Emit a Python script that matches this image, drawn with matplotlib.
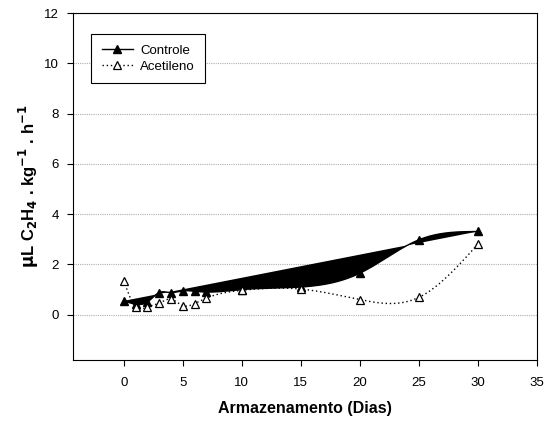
import numpy as np
import matplotlib
matplotlib.use("Agg")
import matplotlib.pyplot as plt

plt.rcParams['font.family'] = ['Liberation Sans', 'DejaVu Sans']

# dias de armazenamento
dias = [0, 1, 2, 3, 4, 5, 6, 7, 10, 15, 20, 25, 30]
controle = [0.55, 0.42, 0.50, 0.88, 0.88, 0.95, 0.93, 0.90, 1.00, 1.10, 1.65, 2.98, 3.31]
acetileno = [1.36, 0.31, 0.31, 0.46, 0.62, 0.36, 0.44, 0.66, 0.97, 1.02, 0.60, 0.69, 2.81]


def spline(x, y, n=400):
    # spline cubica natural, so para desenhar a curva suave
    x = np.asarray(x, float)
    y = np.asarray(y, float)
    k = len(x)
    h = np.diff(x)
    A = np.zeros((k, k))
    b = np.zeros(k)
    A[0, 0] = A[-1, -1] = 1
    for i in range(1, k - 1):
        A[i, i - 1] = h[i - 1]
        A[i, i] = 2 * (h[i - 1] + h[i])
        A[i, i + 1] = h[i]
        b[i] = 6 * ((y[i + 1] - y[i]) / h[i] - (y[i] - y[i - 1]) / h[i - 1])
    M = np.linalg.solve(A, b)
    xs = np.linspace(x[0], x[-1], n)
    j = np.clip(np.searchsorted(x, xs) - 1, 0, k - 2)
    t0 = x[j + 1] - xs
    t1 = xs - x[j]
    hj = h[j]
    ys = (M[j] * t0**3 + M[j + 1] * t1**3) / (6 * hj) \
        + (y[j] / hj - M[j] * hj / 6) * t0 + (y[j + 1] / hj - M[j + 1] * hj / 6) * t1
    return xs, ys


fig = plt.figure(figsize=(5.57, 4.21), dpi=100)
ax = fig.add_axes([0.131, 0.145, 0.833, 0.824])

xc, yc = spline(dias, controle)
xa, ya = spline(dias, acetileno)

ax.fill(xc, yc, color='black', lw=0, zorder=2)
ax.plot(xc, yc, color='black', lw=1, zorder=3)
ax.plot(dias, controle, ls='none', marker='^', ms=6, color='black', zorder=4)

ax.plot(xa, ya, color='black', lw=1, ls=(0, (1, 2)), zorder=5)
ax.plot(dias, acetileno, ls='none', marker='^', ms=6, mfc='white', mec='black',
        mew=0.9, zorder=6)

# entradas da legenda
h1, = ax.plot([], [], color='black', lw=1, marker='^', ms=6)
h2, = ax.plot([], [], color='black', lw=1, ls=(0, (1, 2)), marker='^', ms=6,
              mfc='white', mec='black', mew=0.9)
leg = ax.legend([h1, h2], ['Controle', 'Acetileno'], loc='upper left',
                bbox_to_anchor=(0.039, 0.94), borderaxespad=0, fontsize=9.5,
                frameon=True, fancybox=False, edgecolor='black', framealpha=1,
                handlelength=2.4, borderpad=0.8, labelspacing=0.3,
                handletextpad=0.5)
leg.get_frame().set_linewidth(0.8)

ax.set_xlim(-4.3, 35)
ax.set_ylim(-1.8, 12)
ax.set_xticks(range(0, 36, 5))
ax.set_yticks(range(0, 13, 2))
ax.tick_params(labelsize=9.5, direction='out', length=4, width=0.8)
ax.tick_params(axis='x', pad=8)
ax.tick_params(axis='y', pad=6)
ax.yaxis.grid(True, color='#b0b0b0', ls=(0, (1, 1)), lw=0.8)
ax.set_axisbelow(True)
for s in ax.spines.values():
    s.set_linewidth(0.8)

ax.set_xlabel('Armazenamento (Dias)', fontsize=11.5, fontweight='bold', labelpad=9)
ax.set_ylabel(r'$\mathbf{\mu}$L C$_\mathbf{2}$H$_\mathbf{4}$ . kg$^\mathbf{-1}$ . h$^\mathbf{-1}$',
              fontsize=12, fontweight='bold', labelpad=2)

fig.savefig('out.png', dpi=100)
